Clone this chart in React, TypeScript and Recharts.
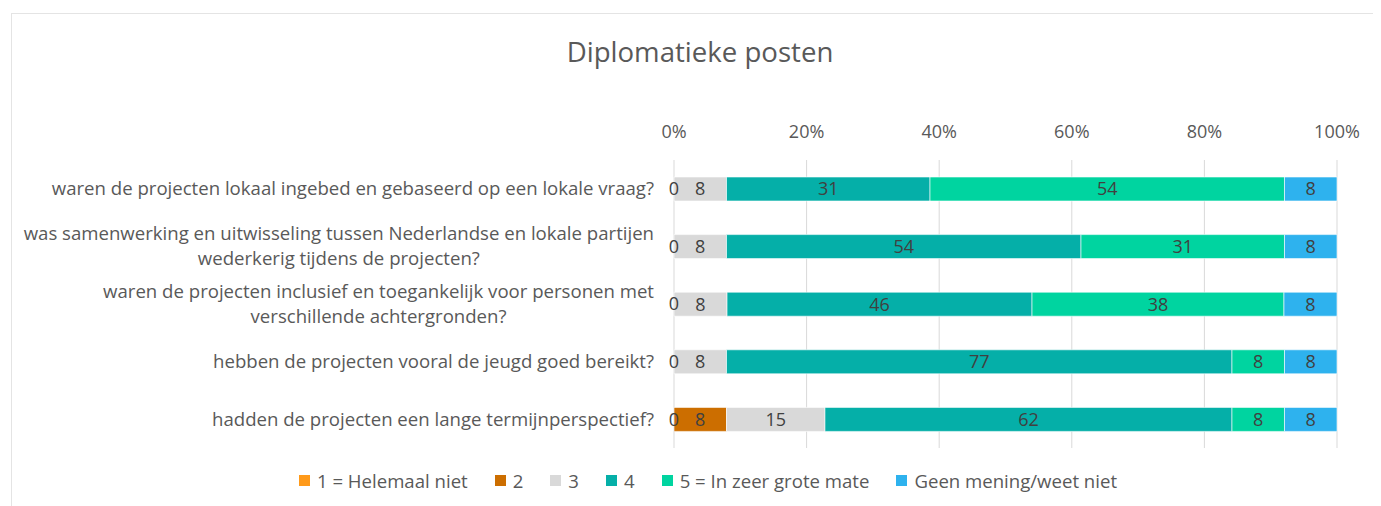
import React from "react";
import { BarChart, Bar, XAxis, YAxis, CartesianGrid, Legend, LabelList } from "recharts";

const FONT = "'Open Sans', sans-serif";
const TEXT = "#595959";

const questions = [
  "waren de projecten lokaal ingebed en gebaseerd op een lokale vraag?",
  "was samenwerking en uitwisseling tussen Nederlandse en lokale partijen\nwederkerig tijdens de projecten?",
  "waren de projecten inclusief en toegankelijk voor personen met\nverschillende achtergronden?",
  "hebben de projecten vooral de jeugd goed bereikt?",
  "hadden de projecten een lange termijnperspectief?",
];

const helemaalNiet = [0, 0, 0, 0, 0];
const twee = [null, null, null, null, 8];
const drie = [8, 8, 8, 8, 15];
const vier = [31, 54, 46, 77, 62];
const zeerGroteMate = [54, 31, 38, 8, 8];
const geenMening = [8, 8, 8, 8, 8];

const xTicks = [0, 0.2, 0.4, 0.6, 0.8, 1];

const series = [
  { key: "s1", name: "1 = Helemaal niet", color: "#FF9A1A", values: helemaalNiet },
  { key: "s2", name: "2", color: "#CC6E00", values: twee },
  { key: "s3", name: "3", color: "#D9D9D9", values: drie },
  { key: "s4", name: "4", color: "#05AFA8", values: vier },
  { key: "s5", name: "5 = In zeer grote mate", color: "#00D4A0", values: zeerGroteMate },
  { key: "s6", name: "Geen mening/weet niet", color: "#2EB2EE", values: geenMening },
];

const data = questions.map((q, i) => {
  const row: any = { name: q };
  series.forEach((s) => {
    row[s.key] = s.values[i] ?? 0;
    row[s.key + "Label"] = s.values[i];
  });
  return row;
});

const measure = (() => {
  let ctx: CanvasRenderingContext2D | null = null;
  return (t: string, size: number) => {
    if (!ctx) ctx = document.createElement("canvas").getContext("2d");
    if (!ctx) return t.length * size * 0.5;
    ctx.font = `${size}px 'Open Sans'`;
    return ctx.measureText(t).width;
  };
})();

// category text on the left; the zero-width "1 = Helemaal niet" value is drawn at the stack start
const CategoryTick = ({ x, y, payload, index }: any) => {
  const lines: string[] = String(payload.value).split("\n");
  const size = 18.6;
  const lh = 25;
  const right = x - 20;
  const widths = lines.map((l) => measure(l, size));
  const block = Math.max(...widths);
  const cx = right - block / 2;
  const y0 = y - ((lines.length - 1) * lh) / 2;
  const i = payload.index ?? index;
  const zero = helemaalNiet[i];
  return (
    <g>
      {lines.map((l, k) => (
        <text
          key={k}
          x={lines.length > 1 ? cx : right}
          y={y0 + k * lh}
          dy="0.35em"
          textAnchor={lines.length > 1 ? "middle" : "end"}
          fill={TEXT}
          fontSize={size}
          fontFamily={FONT}
        >
          {l}
        </text>
      ))}
      {zero !== null && zero !== undefined && (
        <text x={x} y={y} dy="0.35em" textAnchor="middle" fill="#404040" fontSize={18} fontFamily={FONT}>
          {zero}
        </text>
      )}
    </g>
  );
};

const SegmentLabel = (props: any) => {
  const { x, y, width, height, value } = props;
  if (value === null || value === undefined) return null;
  return (
    <text
      x={x + width / 2}
      y={y + height / 2}
      dy="0.35em"
      textAnchor="middle"
      fill="#404040"
      fontSize={18}
      fontFamily={FONT}
    >
      {value}
    </text>
  );
};

const LegendContent = () => (
  <div
    style={{
      display: "flex",
      justifyContent: "center",
      paddingTop: 22,
      paddingLeft: 71,
      height: 20,
      alignItems: "center",
    }}
  >
    {series.map((s, i) => (
      <div key={s.key} style={{ display: "flex", alignItems: "center", marginRight: i < series.length - 1 ? 27 : 0 }}>
        <span style={{ width: 11, height: 11, background: s.color, marginRight: 7, display: "inline-block" }} />
        <span style={{ fontSize: 18.6, color: TEXT, fontFamily: FONT }}>{s.name}</span>
      </div>
    ))}
  </div>
);

export default function App() {
  return (
    <div style={{ position: "relative", width: 1373, height: 498, overflow: "hidden", fontFamily: FONT }}>
      <div
        style={{
          position: "absolute",
          left: 3,
          top: 5,
          width: 1400,
          height: 520,
          borderLeft: "1px solid #e4e4e4",
          borderTop: "1px solid #e4e4e4",
        }}
      />
      <div
        style={{
          position: "absolute",
          top: 24,
          left: 0,
          width: 1384,
          textAlign: "center",
          fontSize: 27.6,
          color: TEXT,
          fontFamily: FONT,
        }}
      >
        Diplomatieke posten
      </div>
      <div style={{ position: "absolute", left: 0, top: 0 }}>
        <BarChart
          width={1365}
          height={490}
          data={data}
          layout="vertical"
          stackOffset="expand"
          barSize={24}
          margin={{ top: 122, right: 36, bottom: 8, left: 0 }}
        >
          <CartesianGrid horizontal={false} stroke="#d9d9d9" />
          <XAxis
            type="number"
            orientation="top"
            domain={[0, 1]}
            ticks={xTicks}
            tickFormatter={(v: number) => `${Math.round(v * 100)}%`}
            axisLine={false}
            tickLine={false}
            tickSize={0}
            tickMargin={22}
            height={30}
            tick={{ fontSize: 18, fill: TEXT, fontFamily: FONT }}
            interval={0}
          />
          <YAxis
            type="category"
            dataKey="name"
            width={666}
            axisLine={false}
            tickLine={false}
            tickSize={0}
            tickMargin={0}
            tick={<CategoryTick />}
            interval={0}
          />
          <Legend verticalAlign="bottom" content={<LegendContent />} />
          {series.map((s) => (
            <Bar
              key={s.key}
              dataKey={s.key}
              name={s.name}
              stackId="a"
              fill={s.color}
              stroke="#ffffff"
              strokeWidth={0.6}
              isAnimationActive={false}
            >
              {s.key !== "s1" && <LabelList dataKey={s.key + "Label"} content={<SegmentLabel />} />}
            </Bar>
          ))}
        </BarChart>
      </div>
    </div>
  );
}
